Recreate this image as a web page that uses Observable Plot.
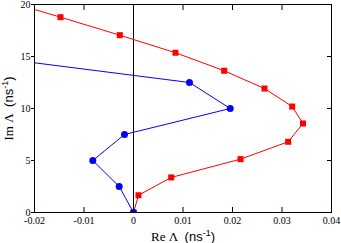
<!DOCTYPE html>
<html><head><meta charset="utf-8">
<script src="https://cdn.jsdelivr.net/npm/d3@7"></script>
<script src="https://cdn.jsdelivr.net/npm/@observablehq/plot@0.6"></script>
<style>body{margin:0;background:#fff}</style>
</head><body><div id="chart"></div>
<script>
const redRe = [0, 0.00101, 0.00762, 0.02162, 0.03125, 0.03424, 0.03206, 0.02646, 0.01832, 0.00848, -0.00277, -0.01475, -0.027];
const redIm = [0, 1.66, 3.37, 5.13, 6.80, 8.56, 10.19, 11.92, 13.63, 15.36, 17.05, 18.78, 20.5];
const blueRe = [0, -0.00289, -0.00822, -0.00182, 0.01954, 0.01131, -0.030];
const blueIm = [0, 2.5, 5.0, 7.5, 10.0, 12.5, 15.0];
const xTicks = [-0.02, -0.01, 0, 0.01, 0.02, 0.03, 0.04];
const xTickLabels = ["-0.02", "-0.01", "0", "0.01", "0.02", "0.03", "0.04"];
const yTicks = [0, 5, 10, 15, 20];
const yTickLabels = ["0", "5", "10", "15", "20"];
const zeroLine = [0];

const red = redRe.map((x, i) => ({x, y: redIm[i]}));
const blue = blueRe.map((x, i) => ({x, y: blueIm[i]}));

const plot = Plot.plot({
  width: 341, height: 243,
  marginLeft: 34, marginRight: 10, marginTop: 4, marginBottom: 31,
  style: {fontFamily: "'Liberation Serif', 'Times New Roman', serif", fontSize: "10px", background: "white", color: "black"},
  x: {domain: [-0.02, 0.04]},
  y: {domain: [0, 20]},
  marks: [
    Plot.ruleX(zeroLine, {stroke: "black", strokeWidth: 1}),
    Plot.line(red, {x: "x", y: "y", stroke: "#ff0000", strokeWidth: 1, clip: true}),
    Plot.dot(red, {x: "x", y: "y", symbol: "square", r: 3.4, fill: "#ff0000", stroke: "none", clip: true}),
    Plot.line(blue, {x: "x", y: "y", stroke: "#0000ff", strokeWidth: 1, clip: true}),
    Plot.dot(blue, {x: "x", y: "y", r: 3.5, fill: "#0000ff", stroke: "none", clip: true}),
    Plot.frame({stroke: "black"}),
    Plot.axisX(xTicks, {anchor: "bottom", tickSize: 0, tickPadding: 4,
      tickFormat: d => xTickLabels[xTicks.indexOf(d)],
      label: "Re Λ (ns-1)", labelAnchor: "center", labelArrow: "none"}),
    Plot.axisX(xTicks, {anchor: "bottom", tickSize: -5, fill: "none"}),
    Plot.axisX(xTicks, {anchor: "top", tickSize: -5, fill: "none"}),
    Plot.axisY(yTicks, {anchor: "left", tickSize: 3, tickPadding: 1,
      tickFormat: d => yTickLabels[yTicks.indexOf(d)],
      label: "Im Λ (ns-1)", labelAnchor: "center", labelArrow: "none"}),
    Plot.axisY(yTicks, {anchor: "right", tickSize: -5, fill: "none"})
  ]
});
document.getElementById("chart").appendChild(plot);

// rich axis labels: serif name, sans unit with superscript
function richLabel(sel, name) {
  const t = plot.querySelector(sel);
  if (!t) return;
  t.setAttribute("font-size", "13px");
  t.textContent = "";
  const ns = "http://www.w3.org/2000/svg";
  const parts = [
    {txt: name + " ", ff: null},
    {txt: " (ns", ff: "'Liberation Sans', Arial, sans-serif"},
    {txt: "-1", ff: "'Liberation Sans', Arial, sans-serif", dy: "-5", fs: "9px"},
    {txt: ")", ff: "'Liberation Sans', Arial, sans-serif", dy: "5"}
  ];
  for (const p of parts) {
    const s = document.createElementNS(ns, "tspan");
    s.textContent = p.txt;
    if (p.ff) s.setAttribute("font-family", p.ff);
    if (p.dy) s.setAttribute("dy", p.dy);
    if (p.fs) s.setAttribute("font-size", p.fs);
    t.appendChild(s);
  }
}
richLabel('g[aria-label="x-axis label"] text', "Re Λ");
richLabel('g[aria-label="y-axis label"] text', "Im Λ");
</script>
</body></html>
